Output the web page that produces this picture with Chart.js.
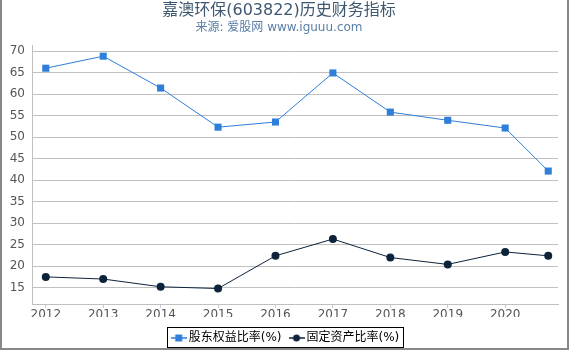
<!DOCTYPE html>
<html>
<head>
<meta charset="utf-8">
<script src="https://cdn.jsdelivr.net/npm/chart.js@4.4.1/dist/chart.umd.min.js"></script>
<style>
  html, body { margin: 0; padding: 0; background: #fff; }
  #wrap { position: relative; width: 570px; height: 350px; }
</style>
</head>
<body>
<div id="wrap"><canvas id="chart"></canvas></div>
<script>
const titleText = '嘉澳环保(603822)历史财务指标';
const subtitleText = '来源: 爱股网 www.iguuu.com';
const seriesNames = ['股东权益比率(%)', '固定资产比率(%)'];
// last point is the 2020 Q3 report, placed at 3/4 of the year
const periods = [2012, 2013, 2014, 2015, 2016, 2017, 2018, 2019, 2020, 2020.75];
const equityRatio = [66.0, 68.8, 61.4, 52.3, 53.5, 64.9, 55.8, 53.9, 52.1, 42.1];
const fixedAssetRatio = [17.5, 17.0, 15.2, 14.8, 22.4, 26.3, 22.0, 20.4, 23.3, 22.4];
const yearTicks = [2012, 2013, 2014, 2015, 2016, 2017, 2018, 2019, 2020];
const valueTicks = [15, 20, 25, 30, 35, 40, 45, 50, 55, 60, 65, 70];

const blue = '#2f7ed8';
const navy = '#0d233a';
const font = 'DejaVu Sans, Noto Sans CJK SC, sans-serif';

function legendMarker(color, shape) {
  const c = document.createElement('canvas');
  c.width = 16; c.height = 10;
  const g = c.getContext('2d');
  g.strokeStyle = color; g.fillStyle = color; g.lineWidth = 1.5;
  g.beginPath(); g.moveTo(0, 5); g.lineTo(16, 5); g.stroke();
  if (shape === 'rect') {
    g.fillRect(4.5, 1.5, 7, 7);
  } else {
    g.beginPath(); g.arc(8, 5, 3.5, 0, Math.PI * 2); g.fill();
  }
  return c;
}
const markers = [legendMarker(blue, 'rect'), legendMarker(navy, 'circle')];

const toPoints = vals => vals.map((v, i) => ({ x: periods[i], y: v }));

// nudge the legend into place and draw its frame plus the outer border
const frame = {
  id: 'frame',
  afterLayout(chart) {
    const lg = chart.legend;
    lg.left += 8; lg.right += 8;
    lg.top += 4; lg.bottom += 4;
  },
  afterDraw(chart) {
    const { ctx } = chart;
    const boxes = chart.legend.legendHitBoxes;
    const last = boxes[boxes.length - 1];
    const l = Math.round(boxes[0].left - 8);
    const r = Math.round(last.left + last.width + 3.5);
    ctx.save();
    ctx.strokeStyle = '#000';
    ctx.lineWidth = 1;
    ctx.strokeRect(l + 0.5, 327.5, r - l, 20);
    ctx.strokeStyle = '#888';
    ctx.lineWidth = 2;
    ctx.beginPath();
    ctx.moveTo(1, 0); ctx.lineTo(1, 349); ctx.lineTo(568, 349); ctx.lineTo(568, 0);
    ctx.stroke();
    ctx.restore();
  }
};

new Chart(document.getElementById('chart'), {
  type: 'line',
  data: {
    datasets: [{
      label: seriesNames[0],
      data: toPoints(equityRatio),
      borderColor: blue,
      backgroundColor: blue,
      borderWidth: 1,
      pointStyle: 'rect',
      pointRadius: 5,
      pointBorderWidth: 0
    }, {
      label: seriesNames[1],
      data: toPoints(fixedAssetRatio),
      borderColor: navy,
      backgroundColor: navy,
      borderWidth: 1,
      pointStyle: 'circle',
      pointRadius: 4,
      pointBorderWidth: 0
    }]
  },
  options: {
    responsive: true,
    maintainAspectRatio: false,
    animation: false,
    layout: { padding: { left: 0, right: 12, top: 0, bottom: 0 } },
    plugins: {
      title: {
        display: true, text: titleText, color: '#3e576f',
        font: { size: 16, family: font, weight: 'normal' },
        padding: { top: 1.5, bottom: 0 }
      },
      subtitle: {
        display: true, text: subtitleText, color: '#5a7fa6',
        font: { size: 12, family: font },
        padding: { top: 0, bottom: 9.9 }
      },
      legend: {
        position: 'bottom',
        labels: {
          usePointStyle: true, pointStyleWidth: 8, boxHeight: 10, padding: 11,
          color: '#333', font: { size: 12, family: font },
          generateLabels: chart => chart.data.datasets.map((ds, i) => ({
            text: ds.label, pointStyle: markers[i], fillStyle: ds.borderColor,
            strokeStyle: ds.borderColor, lineWidth: 0, datasetIndex: i, hidden: false
          }))
        }
      },
      tooltip: { enabled: false }
    },
    scales: {
      x: {
        type: 'linear', min: 2011.76, max: 2020.92,
        afterBuildTicks: s => { s.ticks = yearTicks.map(v => ({ value: v })); },
        afterFit: s => { s.height = 13; },
        grid: { drawOnChartArea: false, drawTicks: true, tickLength: 4, color: '#c0d0e0' },
        border: { color: '#c0c0c0' },
        ticks: { color: '#555', padding: 0, maxRotation: 0, font: { size: 12, family: font }, callback: v => String(v) }
      },
      y: {
        min: 11.2, max: 71.4,
        afterBuildTicks: s => { s.ticks = valueTicks.map(v => ({ value: v })); },
        afterFit: s => { s.width = 32; },
        grid: { color: '#c0c0c0', drawTicks: false },
        border: { color: '#c0c0c0' },
        ticks: { color: '#555', padding: 7, font: { size: 12, family: font } }
      }
    }
  },
  plugins: [frame]
});
</script>
</body>
</html>
